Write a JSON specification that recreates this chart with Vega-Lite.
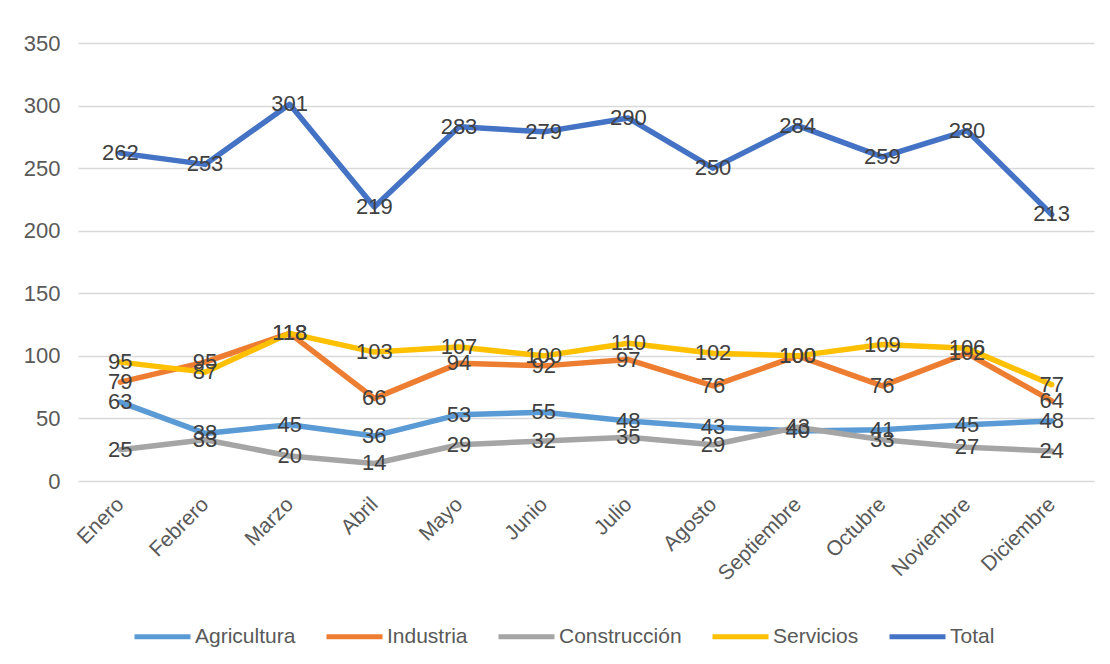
{
  "$schema": "https://vega.github.io/schema/vega-lite/v6.json",
  "width": 1016,
  "height": 438,
  "autosize": {"type": "none"},
  "padding": {"left": 78, "top": 43, "right": 16, "bottom": 183},
  "background": "white",
  "config": {
    "view": {"stroke": null},
    "font": "Liberation Sans, sans-serif"
  },
  "data": {
    "values": [
      {"mes": "Enero", "serie": "Agricultura", "valor": 63},
      {"mes": "Febrero", "serie": "Agricultura", "valor": 38},
      {"mes": "Marzo", "serie": "Agricultura", "valor": 45},
      {"mes": "Abril", "serie": "Agricultura", "valor": 36},
      {"mes": "Mayo", "serie": "Agricultura", "valor": 53},
      {"mes": "Junio", "serie": "Agricultura", "valor": 55},
      {"mes": "Julio", "serie": "Agricultura", "valor": 48},
      {"mes": "Agosto", "serie": "Agricultura", "valor": 43},
      {"mes": "Septiembre", "serie": "Agricultura", "valor": 40},
      {"mes": "Octubre", "serie": "Agricultura", "valor": 41},
      {"mes": "Noviembre", "serie": "Agricultura", "valor": 45},
      {"mes": "Diciembre", "serie": "Agricultura", "valor": 48},
      {"mes": "Enero", "serie": "Industria", "valor": 79},
      {"mes": "Febrero", "serie": "Industria", "valor": 95},
      {"mes": "Marzo", "serie": "Industria", "valor": 118},
      {"mes": "Abril", "serie": "Industria", "valor": 66},
      {"mes": "Mayo", "serie": "Industria", "valor": 94},
      {"mes": "Junio", "serie": "Industria", "valor": 92},
      {"mes": "Julio", "serie": "Industria", "valor": 97},
      {"mes": "Agosto", "serie": "Industria", "valor": 76},
      {"mes": "Septiembre", "serie": "Industria", "valor": 100},
      {"mes": "Octubre", "serie": "Industria", "valor": 76},
      {"mes": "Noviembre", "serie": "Industria", "valor": 102},
      {"mes": "Diciembre", "serie": "Industria", "valor": 64},
      {"mes": "Enero", "serie": "Construcción", "valor": 25},
      {"mes": "Febrero", "serie": "Construcción", "valor": 33},
      {"mes": "Marzo", "serie": "Construcción", "valor": 20},
      {"mes": "Abril", "serie": "Construcción", "valor": 14},
      {"mes": "Mayo", "serie": "Construcción", "valor": 29},
      {"mes": "Junio", "serie": "Construcción", "valor": 32},
      {"mes": "Julio", "serie": "Construcción", "valor": 35},
      {"mes": "Agosto", "serie": "Construcción", "valor": 29},
      {"mes": "Septiembre", "serie": "Construcción", "valor": 43},
      {"mes": "Octubre", "serie": "Construcción", "valor": 33},
      {"mes": "Noviembre", "serie": "Construcción", "valor": 27},
      {"mes": "Diciembre", "serie": "Construcción", "valor": 24},
      {"mes": "Enero", "serie": "Servicios", "valor": 95},
      {"mes": "Febrero", "serie": "Servicios", "valor": 87},
      {"mes": "Marzo", "serie": "Servicios", "valor": 118},
      {"mes": "Abril", "serie": "Servicios", "valor": 103},
      {"mes": "Mayo", "serie": "Servicios", "valor": 107},
      {"mes": "Junio", "serie": "Servicios", "valor": 100},
      {"mes": "Julio", "serie": "Servicios", "valor": 110},
      {"mes": "Agosto", "serie": "Servicios", "valor": 102},
      {"mes": "Septiembre", "serie": "Servicios", "valor": 100},
      {"mes": "Octubre", "serie": "Servicios", "valor": 109},
      {"mes": "Noviembre", "serie": "Servicios", "valor": 106},
      {"mes": "Diciembre", "serie": "Servicios", "valor": 77},
      {"mes": "Enero", "serie": "Total", "valor": 262},
      {"mes": "Febrero", "serie": "Total", "valor": 253},
      {"mes": "Marzo", "serie": "Total", "valor": 301},
      {"mes": "Abril", "serie": "Total", "valor": 219},
      {"mes": "Mayo", "serie": "Total", "valor": 283},
      {"mes": "Junio", "serie": "Total", "valor": 279},
      {"mes": "Julio", "serie": "Total", "valor": 290},
      {"mes": "Agosto", "serie": "Total", "valor": 250},
      {"mes": "Septiembre", "serie": "Total", "valor": 284},
      {"mes": "Octubre", "serie": "Total", "valor": 259},
      {"mes": "Noviembre", "serie": "Total", "valor": 280},
      {"mes": "Diciembre", "serie": "Total", "valor": 213}
    ]
  },
  "encoding": {
    "x": {
      "field": "mes",
      "type": "nominal",
      "sort": ["Enero","Febrero","Marzo","Abril","Mayo","Junio","Julio","Agosto","Septiembre","Octubre","Noviembre","Diciembre"],
      "scale": {"type": "point", "padding": 0.5},
      "axis": {
        "title": null,
        "domain": false,
        "ticks": false,
        "grid": false,
        "labelAngle": -45,
        "labelAlign": "right",
        "labelBaseline": "middle",
        "labelFontSize": 21,
        "labelColor": "#595959",
        "labelPadding": 20
      }
    },
    "y": {
      "field": "valor",
      "type": "quantitative",
      "scale": {"domain": [0, 350], "nice": false},
      "axis": {
        "title": null,
        "domain": false,
        "ticks": false,
        "values": [0, 50, 100, 150, 200, 250, 300, 350],
        "grid": true,
        "gridColor": "#d9d9d9",
        "gridWidth": 1.5,
        "labelFontSize": 22,
        "labelColor": "#595959",
        "labelPadding": 18
      }
    },
    "color": {
      "field": "serie",
      "type": "nominal",
      "sort": ["Agricultura", "Industria", "Construcción", "Servicios", "Total"],
      "scale": {
        "domain": ["Agricultura", "Industria", "Construcción", "Servicios", "Total"],
        "range": ["#5B9BD5", "#ED7D31", "#A5A5A5", "#FFC000", "#4472C4"]
      },
      "legend": {
        "title": null,
        "orient": "none",
        "direction": "horizontal",
        "legendX": 54,
        "legendY": 563,
        "symbolType": "stroke",
        "symbolSize": 3136,
        "symbolStrokeWidth": 5,
        "labelFontSize": 21,
        "labelColor": "#595959",
        "labelOffset": 2,
        "columnPadding": 20
      }
    }
  },
  "layer": [
    {
      "mark": {"type": "line", "strokeWidth": 5.5, "strokeCap": "round", "strokeJoin": "round"}
    },
    {
      "mark": {"type": "text", "fontSize": 22, "color": "#404040", "baseline": "middle", "align": "center"},
      "encoding": {
        "text": {"field": "valor", "type": "quantitative"},
        "color": {"value": "#404040"}
      }
    }
  ]
}
